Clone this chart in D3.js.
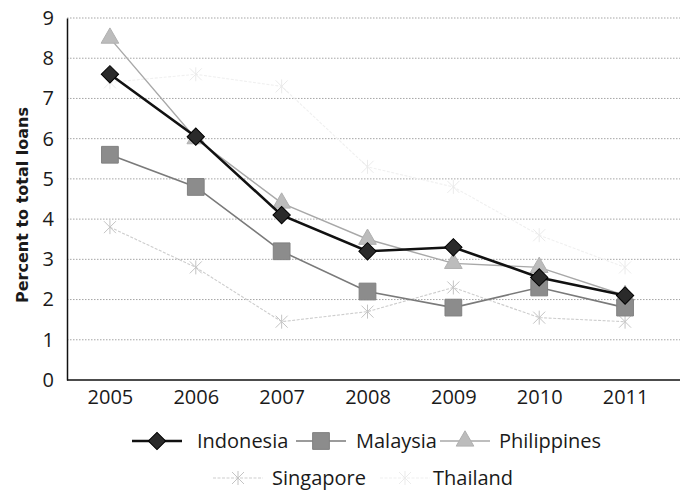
<!DOCTYPE html>
<html>
<head>
<meta charset="utf-8">
<script src="https://cdn.jsdelivr.net/npm/d3@7"></script>
<style>
  html, body { margin: 0; padding: 0; background: #fff; }
  svg { display: block; }
</style>
</head>
<body>
<svg id="chart" width="682" height="493"></svg>
<script>
// Non-performing loans, percent of total loans
const years = ["2005", "2006", "2007", "2008", "2009", "2010", "2011"];
const indonesia   = [7.6, 6.05, 4.1, 3.2, 3.3, 2.55, 2.1];
const malaysia    = [5.6, 4.8, 3.2, 2.2, 1.8, 2.3, 1.8];
const philippines = [8.5, 6.0, 4.4, 3.5, 2.9, 2.8, 2.1];
const singapore   = [3.8, 2.8, 1.45, 1.7, 2.3, 1.55, 1.45];
const thailand    = [7.4, 7.6, 7.3, 5.3, 4.8, 3.6, 2.8];
const yTicks = [0, 1, 2, 3, 4, 5, 6, 7, 8, 9];

const series = [
  { name: "Indonesia",   values: indonesia,   stroke: "#111", width: 2.6, marker: "diamond",  fill: "#2a2a2a", mstroke: "#000", size: 150 },
  { name: "Malaysia",    values: malaysia,    stroke: "#7a7a7a", width: 1.6, marker: "square", fill: "#8c8c8c", mstroke: "#808080", size: 280 },
  { name: "Philippines", values: philippines, stroke: "#a8a8a8", width: 1.4, marker: "triangle", fill: "#bcbcbc", mstroke: "#b0b0b0", size: 135 },
  { name: "Singapore",   values: singapore,   stroke: "#cdcdcd", width: 1.1, marker: "star",   fill: "none", mstroke: "#c4c4c4", size: 120, dash: "3,1.5" },
  { name: "Thailand",    values: thailand,    stroke: "#f0f0f0", width: 1.1, marker: "star",   fill: "none", mstroke: "#ebebeb", size: 110, dash: "3,1.5" }
];

const svg = d3.select("#chart");
const margin = { left: 67, right: 14, top: 18, bottom: 113 };
const W = 682, H = 493;
const font = "'Open Sans', sans-serif";

const x = d3.scalePoint().domain(years).range([margin.left, W - margin.right]).padding(0.5);
const y = d3.scaleLinear().domain([0, 9]).range([H - margin.bottom, margin.top]);

// dotted gridlines
svg.append("g")
  .selectAll("line")
  .data(yTicks.filter(d => d > 0))
  .join("line")
  .attr("x1", margin.left).attr("x2", W - 2)
  .attr("y1", d => y(d)).attr("y2", d => y(d))
  .attr("stroke", "#a5a5a5").attr("stroke-width", 1)
  .attr("stroke-dasharray", "1.5,1.5");

// y axis
const yAxis = svg.append("g")
  .attr("transform", `translate(${margin.left},0)`)
  .call(d3.axisLeft(y).tickValues(yTicks).tickSize(0).tickPadding(13));
yAxis.select(".domain").attr("stroke", "#111").attr("stroke-width", 1.5);
yAxis.selectAll("text")
  .attr("font-family", font).attr("font-size", 20).attr("fill", "#1a1a1a");

// x axis
const xAxis = svg.append("g")
  .attr("transform", `translate(0,${y(0)})`)
  .call(d3.axisBottom(x).tickSize(0).tickPadding(10));
xAxis.select(".domain").attr("d", `M${margin.left},0H${W - 2}`).attr("stroke", "#111").attr("stroke-width", 1.5);
xAxis.selectAll("text")
  .attr("font-family", font).attr("font-size", 20).attr("fill", "#1a1a1a");

// y axis title
svg.append("text")
  .attr("transform", `translate(28,205) rotate(-90)`)
  .attr("text-anchor", "middle")
  .attr("font-family", "'DejaVu Sans', sans-serif").attr("font-weight", "bold")
  .attr("font-size", 16).attr("fill", "#1a1a1a")
  .text("Percent to total loans");

const symbolFor = m => ({
  diamond: d3.symbolSquare,
  square: d3.symbolSquare,
  triangle: d3.symbolTriangle,
  star: d3.symbolCross
})[m];

function drawMarker(g, s, cx, cy) {
  const p = g.append("path")
    .attr("d", d3.symbol().type(symbolFor(s.marker)).size(s.size)())
    .attr("fill", s.fill)
    .attr("stroke", s.mstroke)
    .attr("stroke-width", 1);
  let t = `translate(${cx},${cy})`;
  if (s.marker === "diamond") t += " rotate(45)";
  if (s.marker === "star") {
    p.attr("d", "M-6,-6L6,6M-6,6L6,-6M0,-7L0,7").attr("fill", "none");
  }
  p.attr("transform", t);
}

const line = d3.line().x((d, i) => x(years[i])).y(d => y(d));

// draw from back to front
[...series].reverse().forEach(s => {
  const g = svg.append("g");
  g.append("path")
    .attr("d", line(s.values))
    .attr("fill", "none")
    .attr("stroke", s.stroke)
    .attr("stroke-width", s.width)
    .attr("stroke-dasharray", s.dash || null);
  s.values.forEach((v, i) => drawMarker(g, s, x(years[i]), y(v)));
});

// legend
const legendRows = [
  [{ s: series[0], x: 132, tx: 197 }, { s: series[1], x: 296, tx: 356 }, { s: series[2], x: 440, tx: 499 }],
  [{ s: series[3], x: 213, tx: 272 }, { s: series[4], x: 380, tx: 433 }]
];
const rowY = [441, 478];
legendRows.forEach((row, r) => {
  row.forEach(item => {
    const g = svg.append("g");
    const s = item.s;
    g.append("line")
      .attr("x1", item.x).attr("x2", item.x + 50)
      .attr("y1", rowY[r]).attr("y2", rowY[r])
      .attr("stroke", s.stroke).attr("stroke-width", s.width)
      .attr("stroke-dasharray", s.dash || null);
    drawMarker(g, s, item.x + 25, rowY[r]);
    g.append("text")
      .attr("x", item.tx).attr("y", rowY[r])
      .attr("dy", "0.35em")
      .attr("font-family", font).attr("font-size", 20)
      .attr("fill", "#1a1a1a")
      .text(s.name);
  });
});
</script>
</body>
</html>
